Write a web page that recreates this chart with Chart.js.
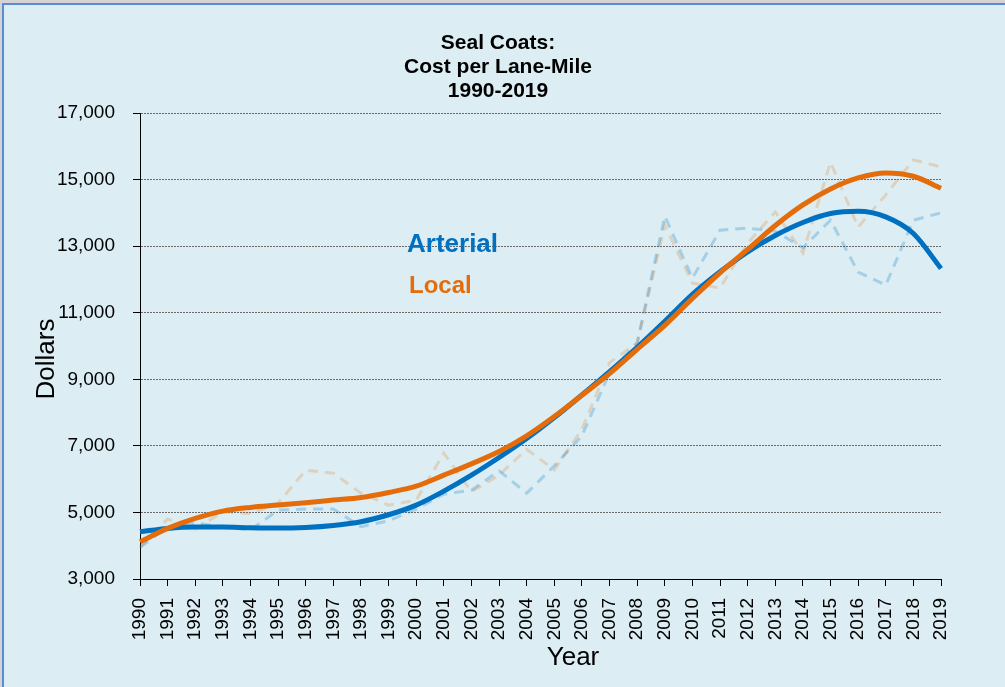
<!DOCTYPE html>
<html>
<head>
<meta charset="utf-8">
<title>Seal Coats: Cost per Lane-Mile 1990-2019</title>
<script src="https://cdn.jsdelivr.net/npm/chart.js@4.4.1/dist/chart.umd.min.js"></script>
<style>
  html, body { margin: 0; padding: 0; background: #d4d4d4; }
  canvas { display: block; }
</style>
</head>
<body>
<canvas id="chart-seal" width="1005" height="687"></canvas>
<script>
(function () {
  'use strict';

  const YEARS = ['1990', '1991', '1992', '1993', '1994', '1995', '1996', '1997', '1998', '1999',
    '2000', '2001', '2002', '2003', '2004', '2005', '2006', '2007', '2008', '2009',
    '2010', '2011', '2012', '2013', '2014', '2015', '2016', '2017', '2018', '2019'];

  // yearly cost, dashed lines
  const ARTERIAL = [3950, 4560, 4680, 4570, 4470, 5070, 5100, 5100, 4570, 4750,
    5100, 5550, 5670, 6250, 5580, 6400, 7300, 9200, 10090, 13900,
    12040, 13480, 13540, 13450, 12950, 13780, 12220, 11830, 13780, 14000];
  const LOCAL = [3950, 4800, 4500, 5020, 4970, 5280, 6270, 6180, 5580, 5220,
    5370, 6780, 5620, 6120, 6900, 6280, 7500, 9500, 10090, 13630,
    11890, 11740, 13090, 14030, 12790, 15520, 13570, 14540, 15590, 15380];

  // trend lines (solid)
  const ARTERIAL_TREND = [4420, 4520, 4560, 4560, 4540, 4530, 4550, 4610, 4720, 4930,
    5220, 5640, 6120, 6650, 7220, 7850, 8530, 9230, 9960, 10740,
    11550, 12230, 12830, 13320, 13710, 13980, 14050, 13880, 13380, 12330];
  const LOCAL_TREND = [4120, 4520, 4820, 5040, 5150, 5220, 5290, 5370, 5450, 5600,
    5790, 6120, 6460, 6830, 7300, 7880, 8520, 9170, 9900, 10620,
    11430, 12200, 12900, 13620, 14240, 14720, 15050, 15200, 15100, 14740];

  const Y_TICKS = [3000, 5000, 7000, 9000, 11000, 13000, 15000, 17000];

  const BLUE = '#0070c0';
  const ORANGE = '#e46c0a';
  const BG = '#dceef4';
  const FONT = '"Liberation Sans", Arial, sans-serif';

  var framePlugin = {
    id: 'sealFrame',
    beforeDraw: function (chart) {
      var ctx = chart.ctx;
      ctx.save();
      ctx.fillStyle = '#d4d4d4';
      ctx.fillRect(0, 0, chart.width, chart.height);
      ctx.fillStyle = BG;
      ctx.fillRect(4, 5, chart.width - 4, chart.height - 5);
      ctx.strokeStyle = '#5b8bd6';
      ctx.lineWidth = 2;
      ctx.beginPath();
      ctx.moveTo(3, chart.height);
      ctx.lineTo(3, 4);
      ctx.lineTo(chart.width, 4);
      ctx.stroke();
      ctx.restore();
    },
    afterDraw: function (chart) {
      var ctx = chart.ctx;
      ctx.save();
      ctx.textAlign = 'center';
      ctx.textBaseline = 'middle';
      ctx.fillStyle = '#000';
      ctx.font = 'bold 21px ' + FONT;
      ['Seal Coats:', 'Cost per Lane-Mile', '1990-2019'].forEach(function (t, i) {
        ctx.fillText(t, 498, 43 + i * 24);
      });

      ctx.font = '26px ' + FONT;
      ctx.fillText('Year', 573, 658);
      ctx.save();
      ctx.translate(47, 359);
      ctx.rotate(-Math.PI / 2);
      ctx.fillText('Dollars', 0, 0);
      ctx.restore();

      // series labels in the plot
      ctx.textAlign = 'left';
      ctx.font = 'bold 26px ' + FONT;
      ctx.fillStyle = BLUE;
      ctx.fillText('Arterial', 407, 245);
      ctx.font = 'bold 24px ' + FONT;
      ctx.fillStyle = ORANGE;
      ctx.fillText('Local', 409, 286);
      ctx.restore();
    }
  };

  function initChart() {
    if (typeof Chart === 'undefined') return;
    var el = document.getElementById('chart-seal');

    new Chart(el, {
      type: 'line',
      data: {
        labels: YEARS,
        datasets: [
          {
            label: 'Local trend',
            data: LOCAL_TREND,
            borderColor: ORANGE,
            borderWidth: 5,
            pointRadius: 0,
            cubicInterpolationMode: 'monotone',
            order: 0
          },
          {
            label: 'Arterial trend',
            data: ARTERIAL_TREND,
            borderColor: BLUE,
            borderWidth: 5,
            pointRadius: 0,
            cubicInterpolationMode: 'monotone',
            order: 1
          },
          {
            label: 'Arterial',
            data: ARTERIAL,
            borderColor: 'rgba(0,112,192,0.25)',
            borderWidth: 3,
            borderDash: [10, 7],
            pointRadius: 0,
            tension: 0,
            order: 2
          },
          {
            label: 'Local',
            data: LOCAL,
            borderColor: 'rgba(228,108,10,0.22)',
            borderWidth: 3,
            borderDash: [10, 7],
            pointRadius: 0,
            tension: 0,
            order: 3
          }
        ]
      },
      options: {
        responsive: false,
        animation: false,
        devicePixelRatio: 1,
        layout: { padding: { left: 0, right: 64, top: 113, bottom: 0 } },
        plugins: {
          legend: { display: false },
          tooltip: { enabled: false },
          title: { display: false }
        },
        scales: {
          x: {
            type: 'category',
            offset: false,
            grid: {
              offset: false,
              drawOnChartArea: false,
              drawTicks: true,
              tickLength: 7,
              tickColor: '#000',
              tickWidth: 1
            },
            border: { display: true, color: '#000', width: 1 },
            ticks: {
              autoSkip: false,
              minRotation: 90,
              maxRotation: 90,
              padding: 12,
              color: '#000',
              font: { family: FONT, size: 19 }
            },
            afterFit: function (scale) { scale.height = 108; }
          },
          y: {
            min: 3000,
            max: 17000,
            afterBuildTicks: function (scale) {
              scale.ticks = Y_TICKS.map(function (v) { return { value: v }; });
            },
            grid: {
              color: function (c) { return c.index === 0 ? 'rgba(0,0,0,0)' : '#6a6a6a'; },
              lineWidth: 1,
              drawTicks: true,
              tickLength: 7,
              tickColor: '#000',
              tickBorderDash: []
            },
            border: { display: true, color: '#000', width: 1, dash: [2, 1] },
            ticks: {
              padding: 18,
              color: '#000',
              font: { family: FONT, size: 19 },
              callback: function (v) { return Number(v).toLocaleString('en-US'); }
            },
            afterFit: function (scale) { scale.width = 140; }
          }
        }
      },
      plugins: [framePlugin]
    });
  }

  if (document.readyState === 'loading') {
    document.addEventListener('DOMContentLoaded', initChart);
  } else {
    initChart();
  }
})();
</script>
</body>
</html>
